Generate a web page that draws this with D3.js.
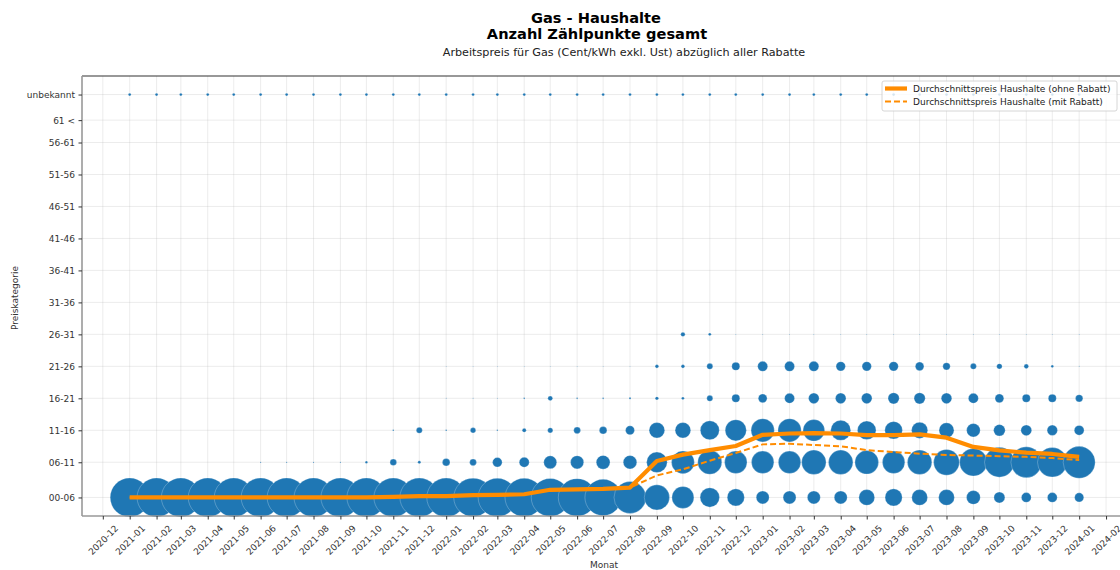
<!DOCTYPE html>
<html><head><meta charset="utf-8">
<script src="https://cdn.jsdelivr.net/npm/d3@7"></script>
<style>body{margin:0;background:#fff;} text{font-family:"DejaVu Sans",sans-serif;}</style>
</head><body><svg id="c" width="1120" height="570"></svg>
<script>
// ---------- data ----------
const months = ["2021-01","2021-02","2021-03","2021-04","2021-05","2021-06","2021-07","2021-08","2021-09","2021-10","2021-11","2021-12",
"2022-01","2022-02","2022-03","2022-04","2022-05","2022-06","2022-07","2022-08","2022-09","2022-10","2022-11","2022-12",
"2023-01","2023-02","2023-03","2023-04","2023-05","2023-06","2023-07","2023-08","2023-09","2023-10","2023-11","2023-12","2024-01"];
const categories = ["00-06","06-11","11-16","16-21","21-26","26-31","31-36","36-41","41-46","46-51","51-56","56-61","61 <","unbekannt"];
const categoryValue = [3,8.5,13.5,18.5,23.5,28.5,33.5,38.5,43.5,48.5,53.5,58.5,62,66];

// Anzahl Zählpunkte per month and price category
const cnt_00_06 = [95000,95000,95000,95000,95000,95000,95000,95000,95000,95000,94100,94100,94100,93100,92200,92200,90200,88400,82800,64000,39700,30200,23500,18500,10500,10500,10500,10500,15600,18500,15600,15600,11900,7600,6000,6000,5300];
const cnt_06_11 = [0,0,0,0,0,90,90,90,90,360,2720,560,3600,2890,5760,6250,10560,10890,11900,11560,26520,32490,36000,31360,31360,31360,37210,37210,34810,31360,37210,41600,47610,55500,59290,54760,64000];
const cnt_11_16 = [0,0,0,0,0,0,0,0,0,0,160,2250,160,1820,120,1000,1690,2890,3610,5060,15210,15210,22560,28090,33640,33640,29160,25000,21620,19360,16400,14060,11560,8410,7290,6760,6000];
const cnt_16_21 = [0,0,0,0,0,0,0,0,0,0,0,0,60,60,60,160,1440,160,160,250,720,490,2250,4000,4840,6250,7020,7020,7020,7840,7840,7020,6250,4840,4000,4000,3420];
const cnt_21_26 = [0,0,0,0,0,0,0,0,0,0,0,0,40,40,40,40,40,40,40,40,810,810,2250,4000,6250,6250,6250,5520,5520,5520,4620,3420,2250,1820,1320,420,60];
const cnt_26_31 = [0,0,0,0,0,0,0,0,0,0,0,0,0,0,0,0,0,0,0,0,0,1210,490,60,60,60,60,60,60,60,60,60,60,60,60,60,60];
const cnt_unbekannt = [490,490,490,490,490,490,490,490,490,490,490,490,490,490,490,490,490,490,490,490,490,490,490,490,490,490,490,490,490,490,490,490,490,490,490,490,490];
const countsByCategory = {"00-06":cnt_00_06,"06-11":cnt_06_11,"11-16":cnt_11_16,"16-21":cnt_16_21,"21-26":cnt_21_26,"26-31":cnt_26_31,"unbekannt":cnt_unbekannt};

// Durchschnittspreis (Cent/kWh)
const priceOhneRabatt = [3.0,3.0,3.0,3.0,3.0,3.0,3.0,3.0,3.0,3.0,3.1,3.2,3.2,3.35,3.4,3.5,4.2,4.25,4.35,4.55,8.7,9.7,10.4,11.05,12.8,13.0,13.05,13.0,12.75,12.75,12.85,12.35,10.9,10.35,10.0,9.8,9.35];
const priceMitRabatt  = [3.0,3.0,3.0,3.0,3.0,3.0,3.0,3.0,3.0,3.0,3.1,3.2,3.2,3.35,3.4,3.5,4.2,4.25,4.35,4.55,6.45,7.4,8.75,9.95,11.3,11.4,11.2,11.0,10.4,10.1,9.85,9.65,9.55,9.45,9.35,9.15,8.85];

const legendLabels = ["Durchschnittspreis Haushalte (ohne Rabatt)","Durchschnittspreis Haushalte (mit Rabatt)"];

// ---------- chart ----------
const svg = d3.select("#c");
const L=82, R=1126, T=76, B=516;
const parseM = d3.utcParse("%Y-%m");
const x = d3.scaleUtc().domain([Date.UTC(2020,10,7), Date.UTC(2024,1,24)]).range([L,R]);
const y = d3.scaleLinear().domain([0.1,68.9]).range([B,T]);
const maxCount = d3.max(cnt_00_06);
const r = d3.scaleSqrt().domain([0,maxCount]).range([0,19.5]);
const xTicks = d3.utcMonth.range(new Date(Date.UTC(2020,11,1)), new Date(Date.UTC(2024,2,1)));
const orange = "#ff8c00";

// grid
const grid = svg.append("g");
grid.selectAll("line.v").data(xTicks).join("line")
  .attr("x1",d=>x(d)).attr("x2",d=>x(d)).attr("y1",T).attr("y2",B)
  .attr("stroke","#b0b0b0").attr("stroke-opacity",0.3).attr("stroke-width",0.8);
grid.selectAll("line.h").data(categoryValue).join("line")
  .attr("x1",L).attr("x2",R).attr("y1",d=>y(d)).attr("y2",d=>y(d))
  .attr("stroke","#b0b0b0").attr("stroke-opacity",0.3).attr("stroke-width",0.8);

// bubbles
const pts = [];
categories.forEach((c,ci)=>{
  const arr = countsByCategory[c];
  if(!arr) return;
  arr.forEach((v,mi)=>{ if(v>0) pts.push({m:parseM(months[mi]), v:categoryValue[ci], n:v}); });
});
svg.append("g").selectAll("circle").data(pts).join("circle")
  .attr("cx",d=>x(d.m)).attr("cy",d=>y(d.v)).attr("r",d=>r(d.n))
  .attr("fill","#1f77b4").attr("stroke","#ffffff").attr("stroke-opacity",0.35).attr("stroke-width",0.7);

// lines
const line = d3.line().x((d,i)=>x(parseM(months[i]))).y(d=>y(d));
svg.append("path").datum(priceOhneRabatt).attr("d",line).attr("fill","none")
  .attr("stroke",orange).attr("stroke-width",4.2).attr("stroke-linejoin","round");
svg.append("path").datum(priceMitRabatt).attr("d",line).attr("fill","none")
  .attr("stroke",orange).attr("stroke-width",2).attr("stroke-dasharray","6,3");

// spines
svg.append("line").attr("x1",L).attr("x2",1120).attr("y1",T).attr("y2",T).attr("stroke","#333").attr("stroke-width",1.2);
svg.append("line").attr("x1",L).attr("x2",L).attr("y1",T).attr("y2",B).attr("stroke","#999").attr("stroke-width",1.6);
svg.append("line").attr("x1",L).attr("x2",1120).attr("y1",B).attr("y2",B).attr("stroke","#999").attr("stroke-width",1.6);

// x axis
const gx = svg.append("g").attr("transform",`translate(0,${B})`)
  .call(d3.axisBottom(x).tickValues(xTicks).tickFormat(d3.utcFormat("%Y-%m")).tickSize(3.5).tickPadding(0));
gx.select(".domain").remove();
gx.selectAll(".tick line").attr("stroke","#333");
gx.selectAll(".tick text").attr("font-size",9).attr("fill","#333")
  .attr("text-anchor","middle").attr("y",0).attr("dy","0.35em")
  .attr("transform","translate(0,24) rotate(-45)");

// y axis
const gy = svg.append("g").attr("transform",`translate(${L},0)`)
  .call(d3.axisLeft(y).tickValues(categoryValue).tickFormat((d,i)=>categories[i]).tickSize(3.5).tickPadding(3.5));
gy.select(".domain").remove();
gy.selectAll(".tick line").attr("stroke","#333");
gy.selectAll(".tick text").attr("font-size",9).attr("fill","#333");

// axis labels
svg.append("text").attr("x",(L+R)/2).attr("y",568).attr("text-anchor","middle").attr("font-size",9).attr("fill","#333").text("Monat");
svg.append("text").attr("transform","translate(18,298) rotate(-90)").attr("text-anchor","middle").attr("font-size",9).attr("fill","#333").text("Preiskategorie");

// titles
svg.append("text").attr("x",596).attr("y",23).attr("text-anchor","middle").attr("font-size",14.6).attr("font-weight","bold").attr("fill","#000").text("Gas - Haushalte");
svg.append("text").attr("x",597).attr("y",38.5).attr("text-anchor","middle").attr("font-size",14.6).attr("font-weight","bold").attr("fill","#000").text("Anzahl Zählpunkte gesamt");
svg.append("text").attr("x",624).attr("y",56).attr("text-anchor","middle").attr("font-size",11.2).attr("fill","#222").text("Arbeitspreis für Gas (Cent/kWh exkl. Ust) abzüglich aller Rabatte");

// legend
const lg = svg.append("g");
lg.append("rect").attr("x",882).attr("y",81).attr("width",235).attr("height",30).attr("rx",2)
  .attr("fill","#fff").attr("fill-opacity",0.8).attr("stroke","#ccc").attr("stroke-width",0.8);
[0,1].forEach(i=>{
  const yy = 88.5 + i*13;
  lg.append("line").attr("x1",885).attr("x2",907).attr("y1",yy).attr("y2",yy)
    .attr("stroke",orange).attr("stroke-width",i===0?4.2:2).attr("stroke-dasharray",i===0?null:"6,3");
  lg.append("text").attr("x",913).attr("y",yy).attr("dy","0.35em").attr("font-size",9).attr("fill","#222").text(legendLabels[i]);
});
</script></body></html>
